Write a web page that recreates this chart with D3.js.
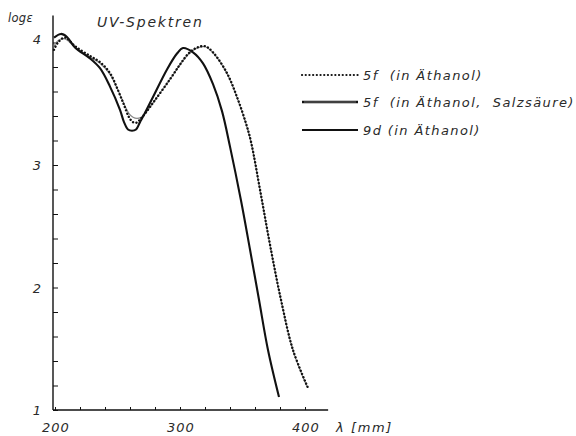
<!DOCTYPE html>
<html>
<head>
<meta charset="UTF-8">
<title>UV-Spektren</title>
<script src="https://cdn.jsdelivr.net/npm/d3@7/dist/d3.min.js"></script>
<style>
	body { margin: 0; background: white; }
	svg text {
		font-family: "DejaVu Sans", sans-serif;
		font-style: italic;
		fill: #2a2a2a;
		white-space: pre;
	}
	.axis path, .axis line { stroke: #111; }
</style>
</head>
<body>
<svg id="chart" width="576" height="436"></svg>
<script>
	// 9d (in Äthanol)
	let lambda9d = [199.2, 204.8, 209.6, 216, 228, 236, 244, 252, 255.2, 258.4, 261.6, 264.8, 268, 271.2, 278.4, 289.6, 297.6, 302.4, 310.4, 318.4, 326.4, 333.6, 340, 348.8, 356, 363.2, 370.4, 379.2];
	let logE9d   = [4.04, 4.07, 4.045, 3.96, 3.87, 3.79, 3.64, 3.45, 3.35, 3.29, 3.28, 3.29, 3.35, 3.41, 3.555, 3.78, 3.91, 3.955, 3.92, 3.83, 3.66, 3.44, 3.15, 2.71, 2.31, 1.90, 1.49, 1.106];

	// 5f (in Äthanol) - dotted
	let lambda5f = [199.2, 202.4, 208, 216, 228, 236, 244, 250.4, 255.2, 259.2, 262.4, 265, 268, 272, 280, 292, 300, 306.4, 312.8, 320, 326.4, 337.6, 345.6, 352.8, 356.8, 364.8, 372, 380.8, 390.4, 402.4];
	let logE5f   = [3.94, 4.00, 4.04, 3.97, 3.89, 3.84, 3.75, 3.61, 3.49, 3.39, 3.35, 3.345, 3.37, 3.42, 3.53, 3.70, 3.82, 3.906, 3.955, 3.97, 3.92, 3.75, 3.555, 3.34, 3.19, 2.755, 2.35, 1.90, 1.49, 1.18];

	// 5f (in Äthanol, Salzsäure)
	let lambda5fHCl = [199.2, 203, 208, 216, 228, 236, 244, 250.4, 255.2, 259.2, 262.4, 265.6, 269, 273, 280, 292, 300, 306.4, 312.8, 320, 326.4, 337.6, 345.6, 352.8, 356.8, 364.8, 372, 380.8, 390.4, 401.6];
	let logE5fHCl   = [3.97, 4.02, 4.03, 3.96, 3.88, 3.83, 3.74, 3.61, 3.50, 3.42, 3.39, 3.38, 3.39, 3.43, 3.53, 3.70, 3.82, 3.90, 3.95, 3.965, 3.915, 3.745, 3.55, 3.335, 3.185, 2.75, 2.345, 1.895, 1.485, 1.19];

	let xTicks = [200, 220, 240, 260, 280, 300, 320, 340, 360, 380, 400];
	let xLabels = [200, 300, 400];
	let yTicks = [1, 1.2, 1.4, 1.6, 1.8, 2, 2.2, 2.4, 2.6, 2.8, 3, 3.2, 3.4, 3.6, 3.8, 4];
	let yLabels = [1, 2, 3, 4];

	let legendLabels = ["5f  (in Äthanol)", "5f  (in Äthanol,  Salzsäure)", "9d (in Äthanol)"];

	let svg = d3.select("#chart");

	let x = d3.scaleLinear().domain([200, 400]).range([55, 305]);
	let y = d3.scaleLinear().domain([1, 4]).range([410, 42.5]);

	// axes
	let gx = svg.append("g").attr("class", "axis")
		.attr("transform", "translate(0," + y(1) + ")")
		.call(d3.axisBottom(x).tickValues(xTicks).tickSize(-3).tickFormat(""));
	gx.select(".domain").remove();

	let gy = svg.append("g").attr("class", "axis")
		.attr("transform", "translate(" + 53 + ",0)")
		.call(d3.axisLeft(y).tickValues(yTicks).tickSize(-5).tickFormat(""));
	gy.select(".domain").remove();

	svg.append("line")
		.attr("x1", 53).attr("x2", x(418.5))
		.attr("y1", y(1)).attr("y2", y(1))
		.attr("stroke", "#111").attr("stroke-width", 1.6);
	svg.append("line")
		.attr("x1", 53).attr("x2", 53)
		.attr("y1", y(1)).attr("y2", y(4.22))
		.attr("stroke", "#111").attr("stroke-width", 1.4);

	svg.selectAll(".xlab")
		.data(xLabels)
		.enter()
		.append("text")
		.attr("x", d => x(d) + 1)
		.attr("y", 432)
		.attr("text-anchor", "middle")
		.attr("font-size", 13)
		.attr("letter-spacing", 1)
		.text(d => d);

	svg.selectAll(".ylab")
		.data(yLabels)
		.enter()
		.append("text")
		.attr("x", 41)
		.attr("y", d => y(d) + (d == 4 ? 1 : 5))
		.attr("text-anchor", "end")
		.attr("font-size", 13)
		.text(d => d);

	svg.append("text").attr("x", 336).attr("y", 432)
		.attr("font-size", 13).attr("letter-spacing", 1.6).text("λ [mm]");
	svg.append("text").attr("x", 8).attr("y", 22)
		.attr("font-size", 11.5).attr("letter-spacing", 0.3).text("logε");
	svg.append("text").attr("x", 97).attr("y", 27)
		.attr("font-size", 14).attr("letter-spacing", 1.8).text("UV-Spektren");

	// curves
	let line = d3.line()
		.x(d => x(d[0]))
		.y(d => y(d[1]))
		.curve(d3.curveCatmullRom.alpha(0.5));

	svg.append("path")
		.datum(d3.zip(lambda5fHCl, logE5fHCl))
		.attr("d", line)
		.attr("fill", "none")
		.attr("stroke", "#888")
		.attr("stroke-width", 1.2);

	svg.append("path")
		.datum(d3.zip(lambda5f, logE5f))
		.attr("d", line)
		.attr("fill", "none")
		.attr("stroke", "#111")
		.attr("stroke-width", 2.4)
		.attr("stroke-linecap", "round")
		.attr("stroke-dasharray", "0.1,3.4");

	svg.append("path")
		.datum(d3.zip(lambda9d, logE9d))
		.attr("d", line)
		.attr("fill", "none")
		.attr("stroke", "#111")
		.attr("stroke-width", 2.1);

	// legend
	let legendY = [75, 102, 130];
	let leg = svg.append("g");
	leg.append("line")
		.attr("x1", 302).attr("x2", 358).attr("y1", legendY[0]).attr("y2", legendY[0])
		.attr("stroke", "#111").attr("stroke-width", 2.2)
		.attr("stroke-linecap", "round").attr("stroke-dasharray", "0.1,3.6");
	leg.append("line")
		.attr("x1", 302).attr("x2", 358).attr("y1", legendY[1]).attr("y2", legendY[1])
		.attr("stroke", "#111").attr("stroke-width", 2.4);
	leg.append("line")
		.attr("x1", 304).attr("x2", 356).attr("y1", legendY[1]).attr("y2", legendY[1])
		.attr("stroke", "#888").attr("stroke-width", 0.8);
	leg.append("line")
		.attr("x1", 302).attr("x2", 358).attr("y1", legendY[2]).attr("y2", legendY[2])
		.attr("stroke", "#111").attr("stroke-width", 2);

	leg.selectAll("text")
		.data(legendLabels)
		.enter()
		.append("text")
		.attr("x", 363)
		.attr("y", (d, i) => legendY[i] + 5)
		.attr("font-size", 13)
		.attr("letter-spacing", 1.4)
		.text(d => d);
</script>
</body>
</html>
